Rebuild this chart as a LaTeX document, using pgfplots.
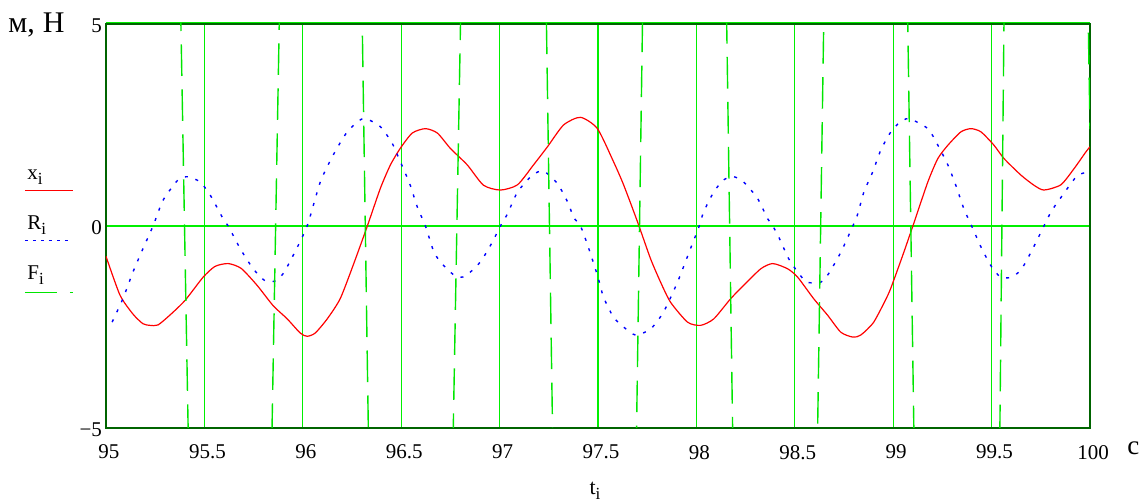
\documentclass[border=0pt]{standalone}
\usepackage{fontspec}
\setmainfont{Liberation Serif}
\usepackage{pgfplots}
\pgfplotsset{compat=1.18}
\definecolor{dkgreen}{RGB}{0,100,0}
\definecolor{grgreen}{RGB}{0,240,0}
\definecolor{fgreen}{RGB}{0,230,0}
\newcommand\sub[1]{\raisebox{-0.45ex}{\fontsize{8.5}{10}\selectfont #1}}
\begin{document}
\begin{tikzpicture}
\begin{axis}[name=ax, at={(0pt,0pt)}, anchor=south west,
  scale only axis, width=492pt, height=202pt,
  xmin=95, xmax=100, ymin=-5, ymax=5,
  xtick={95,95.5,96,96.5,97,97.5,98,98.5,99,99.5,100},
  xticklabels={95,95.5,96,96.5,97,97.5,98,98.5,99,99.5,100},
  ytick={-5,0,5}, yticklabels={−5,0,5},
  major tick length=0pt,
  grid=major, grid style={color=grgreen, line width=0.6pt},
  axis line style={dkgreen, line width=0.8pt},
  tick label style={font=\fontsize{10.5}{12}\selectfont},
  xticklabel style={yshift=-5pt, xshift=1.5pt},
  yticklabel style={xshift=1.5pt, yshift=-1pt},
  clip=true]
\addplot[color=red, line width=0.6pt, smooth, tension=0.4] table {
95.000 -0.75
95.071 -1.71
95.137 -2.18
95.188 -2.42
95.224 -2.46
95.264 -2.45
95.326 -2.20
95.402 -1.84
95.493 -1.27
95.554 -1.00
95.621 -0.93
95.687 -1.05
95.768 -1.47
95.849 -1.97
95.921 -2.30
95.987 -2.65
96.022 -2.73
96.063 -2.65
96.124 -2.30
96.190 -1.80
96.256 -0.97
96.328 0.00
96.394 0.93
96.445 1.51
96.495 1.92
96.556 2.30
96.623 2.41
96.684 2.30
96.750 1.92
96.836 1.51
96.918 1.01
97.004 0.89
97.091 1.02
97.172 1.51
97.243 1.96
97.325 2.50
97.411 2.69
97.497 2.41
97.579 1.59
97.630 1.02
97.701 0.10
97.767 -0.81
97.818 -1.39
97.869 -1.89
97.955 -2.38
98.021 -2.46
98.088 -2.30
98.174 -1.80
98.240 -1.47
98.327 -1.06
98.388 -0.93
98.464 -1.06
98.515 -1.27
98.596 -1.80
98.667 -2.21
98.734 -2.63
98.795 -2.75
98.835 -2.70
98.901 -2.38
98.973 -1.71
99.003 -1.34
99.054 -0.65
99.100 0.00
99.176 1.09
99.227 1.67
99.278 2.00
99.344 2.33
99.395 2.41
99.446 2.33
99.512 2.00
99.563 1.67
99.649 1.26
99.715 1.01
99.766 0.89
99.852 1.02
99.919 1.42
99.980 1.84
100.000 1.96
};
\addplot[color=blue, line width=0.7pt, dash pattern=on 1.5pt off 4pt, smooth, tension=0.4] table {
95.031 -2.38
95.086 -1.80
95.137 -1.14
95.188 -0.56
95.239 0.00
95.275 0.47
95.300 0.72
95.366 1.14
95.417 1.22
95.478 1.09
95.529 0.77
95.595 0.18
95.621 0.00
95.682 -0.56
95.748 -1.06
95.809 -1.36
95.860 -1.36
95.900 -1.18
95.951 -0.73
96.022 0.00
96.089 1.09
96.155 1.76
96.226 2.33
96.307 2.66
96.394 2.46
96.455 2.04
96.485 1.71
96.511 1.42
96.546 1.01
96.582 0.47
96.623 0.00
96.663 -0.60
96.699 -0.89
96.775 -1.24
96.826 -1.24
96.902 -0.89
96.963 -0.40
97.004 0.00
97.040 0.30
97.091 0.84
97.167 1.26
97.223 1.36
97.294 1.05
97.350 0.55
97.375 0.22
97.411 0.00
97.447 -0.47
97.497 -1.22
97.528 -1.76
97.579 -2.26
97.630 -2.50
97.691 -2.70
97.767 -2.55
97.833 -2.13
97.904 -1.39
97.970 -0.56
98.011 -0.05
98.037 0.35
98.088 0.84
98.138 1.14
98.189 1.22
98.240 1.09
98.311 0.68
98.362 0.18
98.388 0.00
98.418 -0.27
98.469 -0.81
98.515 -1.14
98.561 -1.39
98.632 -1.39
98.672 -1.18
98.734 -0.65
98.795 0.00
98.820 0.30
98.851 0.84
98.896 1.34
98.937 1.88
98.988 2.33
99.028 2.54
99.079 2.66
99.176 2.41
99.227 2.00
99.278 1.51
99.318 1.01
99.359 0.43
99.405 -0.07
99.446 -0.52
99.481 -0.85
99.507 -1.06
99.547 -1.27
99.598 -1.27
99.649 -1.09
99.700 -0.65
99.751 -0.15
99.802 0.35
99.837 0.60
99.903 1.05
99.939 1.26
99.990 1.34
100.000 1.34
};
\addplot[color=fgreen, line width=0.7pt, dash pattern=on 15.8pt off 6.7pt] table {
95.000 6
95.377 6
95.421 -6
95.840 -6
95.884 6
96.299 6
96.336 -6
96.761 -6
96.805 6
97.235 6
97.272 -6
97.693 -6
97.729 6
98.151 6
98.187 -6
98.613 -6
98.650 6
99.071 6
99.108 -6
99.540 -6
99.565 6
99.988 6
100.000 2.4
};
\end{axis}
\draw[grgreen, line width=0.6pt] ([yshift=0.6pt]ax.north west) -- ([yshift=0.6pt]ax.north east);
\node[anchor=base west, inner sep=0pt, font=\fontsize{15}{18}\selectfont] at (-49pt,197.5pt) {м,\hspace{4pt}Н};
\node[anchor=base west, inner sep=0pt, font=\fontsize{13.5}{16}\selectfont] at (510.5pt,-13.5pt) {с};
\node[anchor=base, inner sep=0pt, font=\fontsize{11}{13}\selectfont] at (244.5pt,-33.5pt) {t\sub{i}};
\node[anchor=base west, inner sep=0pt, font=\fontsize{10.5}{12}\selectfont] at (-39.5pt,124pt) {x\sub{i}};
\node[anchor=base west, inner sep=0pt, font=\fontsize{10.5}{12}\selectfont] at (-39.5pt,99pt) {R\sub{i}};
\node[anchor=base west, inner sep=0pt, font=\fontsize{10.5}{12}\selectfont] at (-39.5pt,74pt) {F\sub{i}};
\draw[red, line width=0.6pt] (-40.5pt,118.6pt) -- (-16.5pt,118.6pt);
\draw[blue, line width=0.7pt, dash pattern=on 1.5pt off 2.5pt] (-40.5pt,93.6pt) -- (-16.5pt,93.6pt);
\draw[fgreen, line width=0.7pt, dash pattern=on 15.8pt off 6.7pt] (-40.5pt,67.8pt) -- (-16.5pt,67.8pt);
\pgfresetboundingbox
\useasboundingbox (-53pt,-37pt) rectangle (518pt,214pt);
\end{tikzpicture}
\end{document}
